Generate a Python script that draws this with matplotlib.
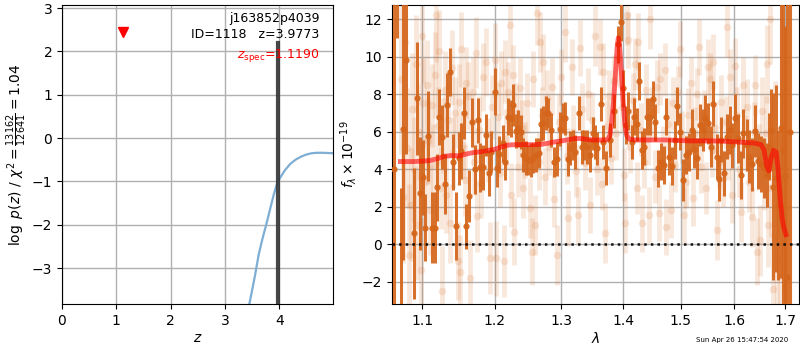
import matplotlib
matplotlib.use("Agg")
import matplotlib.pyplot as plt
from matplotlib.ticker import NullLocator, FixedLocator, FixedFormatter

# ---------------- left panel: redshift PDF ----------------
z_grid = [3.40, 3.45, 3.55, 3.62, 3.69, 3.76, 3.83, 3.90, 3.96, 4.00, 4.05, 4.10,
          4.20, 4.30, 4.40, 4.50, 4.60, 4.70, 4.80, 4.99]
logpz = [-4.20, -3.83, -3.20, -2.70, -2.33, -2.00, -1.65, -1.30, -1.05, -0.95, -0.85, -0.75,
         -0.60, -0.50, -0.43, -0.38, -0.35, -0.34, -0.34, -0.35]
z_best = 3.9773
z_spec = 1.1190
z_spec_mark = 2.45
zbest_line_top = 2.2
left_xticks = [0, 1, 2, 3, 4]
left_yticks = [-3, -2, -1, 0, 1, 2, 3]

# ---------------- right panel: spectrum ----------------
bold_wave = [1.0637, 1.0675, 1.0720, 1.0756, 1.0791, 1.0895, 1.0938, 1.0974, 1.1017, 1.1044,
             1.1083, 1.1129, 1.1169, 1.1196, 1.1231, 1.1271, 1.1312, 1.1339, 1.1380, 1.1421,
             1.1462, 1.1495, 1.1527, 1.1568, 1.1600, 1.1642, 1.1684, 1.1726, 1.1760, 1.1792,
             1.1830, 1.1882, 1.1916, 1.1953, 1.2002, 1.2040, 1.2069, 1.2118, 1.2156, 1.2200,
             1.2235, 1.2273, 1.2313, 1.2347, 1.2382, 1.2421, 1.2457, 1.2491, 1.2532, 1.2571,
             1.2612, 1.2653, 1.2688, 1.2722, 1.2764, 1.2799, 1.2841, 1.2887, 1.2929, 1.2980,
             1.3022, 1.3063, 1.3105, 1.3141, 1.3179, 1.3220, 1.3274, 1.3322, 1.3364, 1.3402,
             1.3455, 1.3499, 1.3536, 1.3574, 1.3639, 1.3672, 1.3716, 1.3782, 1.3853, 1.3910,
             1.3960, 1.4004, 1.4044, 1.4088, 1.4145, 1.4190, 1.4231, 1.4275, 1.4326, 1.4361,
             1.4413, 1.4459, 1.4512, 1.4552, 1.4604, 1.4651, 1.4704, 1.4745, 1.4798, 1.4846,
             1.4905, 1.4941, 1.4989, 1.5049, 1.5098, 1.5146, 1.5201, 1.5243, 1.5304, 1.5353,
             1.5403, 1.5451, 1.5507, 1.5551, 1.5600, 1.5664, 1.5701, 1.5750, 1.5807, 1.5864,
             1.5915, 1.5954, 1.6017, 1.6063, 1.6121, 1.6171, 1.6238, 1.6288, 1.6335, 1.6400,
             1.6465, 1.6518, 1.6572, 1.6632, 1.6684, 1.6718, 1.6764, 1.6818, 1.6865, 1.6913,
             1.6960, 1.7001, 1.7047, 1.7103]
bold_flux = [4.00, 16.0, -6.0, 6.13, 9.81, 0.57, 7.77, 2.70, 3.57, 0.87,
             5.76, 0.87, 0.87, 3.02, 6.77, 5.71, 3.18, 7.41, 9.17, 4.39,
             0.96, 4.57, 4.96, 6.99, 0.96, 2.56, 6.49, 3.98, 6.60, 4.09,
             4.09, 5.81, 3.77, 4.92, 8.12, 4.04, 4.78, 5.37, 4.39, 6.79,
             6.70, 7.41, 6.03, 6.17, 5.99, 4.75, 4.57, 4.48, 4.48, 4.57,
             4.75, 4.84, 6.38, 6.44, 6.97, 6.97, 6.08, 4.39, 4.53, 6.13,
             6.74, 6.70, 4.52, 5.14, 5.28, 4.92, 6.97, 5.19, 5.28, 5.19,
             4.75, 5.90, 5.46, 5.10, 7.45, 5.46, 4.04, 5.55, 7.09, 10.65,
             11.82, 8.30, 6.35, 7.09, 5.46, 6.79, 6.38, 8.69, 5.01, 5.19,
             6.79, 6.79, 7.72, 6.49, 4.04, 4.39, 4.21, 6.79, 4.66, 4.16,
             5.55, 7.36, 5.99, 3.41, 4.75, 4.92, 6.08, 5.07, 4.57, 6.35,
             6.08, 6.74, 6.44, 5.19, 7.47, 4.66, 3.47, 5.55, 3.77, 5.72,
             6.08, 5.28, 6.70, 5.63, 3.68, 5.90, 5.28, 4.66, 4.25, 6.03,
             4.43, 4.25, 4.04, 3.68, 5.19, 6.08, 3.06, 3.50, 2.08, 6.17,
             5.00, 3.64, -1.74, 6.00]
bold_err = [10.0, 5.0, 9.0, 7.0, 5.0, 3.5, 3.0, 3.0, 2.0, 1.8,
            2.4, 1.9, 1.9, 1.8, 1.5, 1.7, 1.6, 1.7, 1.3, 1.5,
            1.8, 1.4, 1.5, 1.4, 1.2, 1.4, 1.3, 1.3, 1.2, 1.3,
            1.2, 1.1, 1.2, 1.1, 1.25, 1.0, 1.0, 1.0, 1.0, 1.0,
            1.0, 1.1, 0.9, 1.0, 0.9, 0.9, 0.9, 0.8, 0.9, 0.8,
            0.9, 0.8, 0.9, 0.9, 0.9, 0.8, 0.9, 0.8, 0.9, 0.9,
            0.8, 0.9, 0.9, 0.9, 0.8, 0.9, 0.9, 0.9, 0.8, 0.9,
            0.9, 0.9, 0.9, 0.9, 0.9, 0.9, 0.9, 0.9, 0.9, 1.0,
            1.0, 1.0, 1.0, 1.0, 0.9, 1.0, 0.9, 1.0, 1.0, 1.0,
            1.0, 1.0, 1.0, 1.0, 1.0, 1.0, 1.0, 1.0, 1.0, 1.0,
            1.0, 1.0, 1.0, 1.1, 1.0, 1.0, 1.1, 1.0, 1.1, 1.1,
            1.1, 1.2, 1.1, 1.1, 1.2, 1.2, 1.2, 1.2, 1.2, 1.2,
            1.3, 1.2, 1.3, 1.3, 1.3, 1.3, 1.4, 1.4, 1.4, 1.4,
            1.5, 1.5, 1.6, 1.7, 1.8, 2.2, 5.0, 5.0, 4.0, 8.0,
            12.0, 8.0, 15.0, 14.0]

faint_wave = [1.0725, 1.0752, 1.0778, 1.0801, 1.0829, 1.0850, 1.0872, 1.0893, 1.0915, 1.0938,
              1.0962, 1.0980, 1.0996, 1.1012, 1.1035, 1.1060, 1.1081, 1.1105, 1.1130, 1.1152,
              1.1175, 1.1190, 1.1212, 1.1230, 1.1248, 1.1262, 1.1285, 1.1305, 1.1325, 1.1350,
              1.1378, 1.1398, 1.1420, 1.1448, 1.1480, 1.1495, 1.1512, 1.1530, 1.1555, 1.1575,
              1.1600, 1.1630, 1.1650, 1.1690, 1.1712, 1.1740, 1.1752, 1.1780, 1.1810, 1.1840,
              1.1880, 1.1905, 1.1940, 1.1970,
              1.2000, 1.2025, 1.2045, 1.2075, 1.2098, 1.2130, 1.2150, 1.2172, 1.2195, 1.2220,
              1.2245, 1.2262, 1.2290, 1.2318, 1.2340, 1.2365, 1.2395, 1.2420, 1.2440, 1.2470,
              1.2520, 1.2545, 1.2565, 1.2600, 1.2630, 1.2650, 1.2670, 1.2700, 1.2720, 1.2750,
              1.2780, 1.2810, 1.2850, 1.2880, 1.2930, 1.2960, 1.3000, 1.3060, 1.3085, 1.3110,
              1.3160, 1.3190, 1.3230, 1.3260, 1.3300, 1.3330, 1.3380, 1.3420, 1.3450,
              1.3490, 1.3540, 1.3570, 1.3620, 1.3650, 1.3672, 1.3700, 1.3725, 1.3760, 1.3800,
              1.3840, 1.3880, 1.3930, 1.3975, 1.4010, 1.4040, 1.4060, 1.4090, 1.4120, 1.4160,
              1.4200, 1.4240, 1.4260, 1.4300, 1.4320, 1.4350, 1.4390, 1.4420, 1.4450, 1.4460,
              1.4500, 1.4540, 1.4580, 1.4620, 1.4635, 1.4680, 1.4720, 1.4745, 1.4780, 1.4830,
              1.4860, 1.4900, 1.4950, 1.4990, 1.5030, 1.5060, 1.5100, 1.5140, 1.5180,
              1.5220, 1.5260, 1.5300, 1.5340, 1.5380, 1.5420, 1.5460, 1.5500, 1.5540, 1.5580,
              1.5600, 1.5640, 1.5660, 1.5700, 1.5740, 1.5790, 1.5830, 1.5850, 1.5880, 1.5920,
              1.5960, 1.6010, 1.6050, 1.6090, 1.6120, 1.6170, 1.6210, 1.6250, 1.6290, 1.6340,
              1.6370, 1.6400, 1.6430, 1.6470, 1.6500, 1.6540, 1.6580, 1.6620, 1.6640, 1.6650,
              1.6690, 1.6720, 1.6760, 1.6800, 1.6840, 1.6890, 1.6930, 1.6980]
faint_flux = [8.8, 2.5, 10.8, 5.1, -0.6, 2.1, 7.2, 4.0, 9.6, 1.0,
              6.0, -1.4, 11.1, 7.5, 3.3, 8.5, 5.5, 1.8, 7.4, 4.2,
              9.0, 12.2, 6.3, 10.3, 3.0, -2.5, 5.8, 8.2, 2.6, 6.6,
              1.1, 9.4, 4.9, 7.0, -0.9, 7.6, -1.5, 10.4, 5.3, 3.4,
              8.6, 7.9, -1.8, 8.1, 4.4, 10.2, 1.5, 6.1, 3.2, 8.9,
              9.7, 5.0, -0.75, 7.3,
              9.8, -0.75, 6.8, 3.8, 8.6, -0.9, 9.2, 5.6, 8.1, 11.7,
              2.6, 9.0, 0.66, 7.0, 4.1, 8.3, 6.2, 2.97, 5.0, 7.5,
              1.9, -0.4, 8.8, 1.0, 12.3, 4.4, 10.8, 6.9, 9.7, 3.6,
              7.8, 5.2, 8.4, 2.4, -0.6, 6.5, 8.9, 11.3, 4.7, 1.37,
              9.46, 6.0, 3.9, 1.55, 10.45, 7.2, 4.3, 8.0, 2.08,
              6.6, 11.1, 4.0, 10.5, 3.2, 9.2, 0.57, 6.3, 7.9, 4.6,
              8.7, 5.9, 9.9, 7.3, 3.7, 1.1, 12.2, 10.9, 5.2, 7.7,
              9.6, 3.0, 10.8, 6.1, 1.1, 4.4, 8.2, 5.6, 1.55, 12.0,
              7.0, 3.6, 8.4, 1.64, 8.8, 4.9, 9.3, 0.92, 6.4, 1.81,
              7.5, 4.2, 8.1, 10.4, 5.7, 1.55, 3.3, 6.9, 8.6,
              2.45, 5.9, 8.0, 10.5, 4.1, 6.8, 3.0, 9.45, 8.8, 5.0,
              9.7, 6.2, 0.75, 4.4, 7.6, 3.5, 6.5, 11.6, 4.8, 8.9,
              2.6, 9.5, 6.9, 4.0, 1.7, 8.5, 5.4, 7.3, 3.3, 1.45,
              6.0, 8.5, -0.4, 4.7, 0.2, 7.1, 3.7, 5.9, 9.6, 1.0,
              12.0, 3.0, -2.4, 5.5, -0.8, -1.7, 8.0, 2.0]
faint_err = [4.0, 3.5, 3.0, 3.2, 3.8, 3.0, 3.0, 2.8, 2.6, 2.9,
             2.6, 2.8, 2.5, 2.4, 2.5, 2.4, 2.3, 2.4, 2.2, 2.2,
             2.3, 2.5, 2.1, 2.2, 2.2, 2.4, 2.0, 2.1, 2.0, 2.0,
             2.1, 2.0, 1.9, 1.9, 2.1, 2.0, 2.0, 2.0, 1.8, 1.9,
             1.9, 1.8, 2.0, 1.9, 1.8, 1.9, 1.9, 1.8, 1.8, 1.8,
             1.8, 1.7, 1.9, 1.7,
             2.0, 2.0, 1.8, 1.8, 1.7, 1.9, 1.7, 1.6, 1.6, 1.8,
             1.7, 1.6, 1.8, 1.6, 1.6, 1.6, 1.5, 1.6, 1.5, 1.6,
             1.6, 1.8, 1.5, 1.6, 1.7, 1.5, 1.6, 1.5, 1.5, 1.5,
             1.5, 1.5, 1.5, 1.5, 1.6, 1.5, 1.5, 1.6, 1.5, 1.5,
             1.5, 1.4, 1.4, 1.5, 1.5, 1.4, 1.4, 1.4, 1.5,
             1.5, 1.6, 1.4, 1.5, 1.4, 1.5, 1.6, 1.4, 1.4, 1.4,
             1.4, 1.4, 1.5, 1.4, 1.4, 1.6, 1.6, 1.5, 1.4, 1.4,
             1.4, 1.4, 1.5, 1.4, 1.5, 1.4, 1.4, 1.4, 1.5, 1.6,
             1.4, 1.4, 1.4, 1.5, 1.4, 1.4, 1.4, 1.5, 1.4, 1.5,
             1.4, 1.4, 1.4, 1.5, 1.4, 1.5, 1.4, 1.4, 1.4,
             1.5, 1.4, 1.4, 1.5, 1.4, 1.4, 1.4, 1.5, 1.4, 1.4,
             1.5, 1.4, 1.6, 1.4, 1.4, 1.5, 1.4, 1.6, 1.4, 1.5,
             1.5, 1.5, 1.5, 1.5, 1.6, 1.5, 1.5, 1.5, 1.6, 1.6,
             1.6, 1.6, 1.8, 1.7, 1.9, 1.8, 1.9, 2.0, 2.1, 2.2,
             2.4, 2.6, 3.0, 3.2, 3.5, 3.8, 4.0, 4.5]

model_wave = [1.0718, 1.0800, 1.0900, 1.1000, 1.1100, 1.1200, 1.1300, 1.1400, 1.1500, 1.1600,
              1.1700, 1.1800, 1.1900, 1.2000, 1.2100, 1.2200, 1.2300, 1.2400, 1.2500, 1.2600,
              1.2700, 1.2800, 1.2900, 1.3000, 1.3100, 1.3200, 1.3300, 1.3400, 1.3500, 1.3600,
              1.3700, 1.3750, 1.3780, 1.3810, 1.3840, 1.3870, 1.3900, 1.3920, 1.3940, 1.3970,
              1.4000, 1.4030, 1.4060, 1.4100, 1.4200, 1.4400, 1.4600, 1.4800, 1.5000, 1.5200,
              1.5400, 1.5600, 1.5800, 1.6000, 1.6200, 1.6400, 1.6520, 1.6580, 1.6630, 1.6670,
              1.6720, 1.6770, 1.6820, 1.6860, 1.6900, 1.6940, 1.6980, 1.7020]
model_flux = [4.40, 4.40, 4.40, 4.42, 4.45, 4.55, 4.68, 4.72, 4.70, 4.80,
              4.88, 4.92, 4.98, 5.05, 5.18, 5.28, 5.30, 5.30, 5.30, 5.30,
              5.32, 5.38, 5.45, 5.50, 5.56, 5.62, 5.63, 5.58, 5.55, 5.55,
              5.55, 5.60, 5.80, 6.50, 7.60, 9.00, 10.50, 11.00, 10.60, 9.20,
              7.60, 6.40, 5.80, 5.60, 5.55, 5.55, 5.55, 5.55, 5.52, 5.50,
              5.50, 5.50, 5.48, 5.45, 5.42, 5.38, 5.30, 5.00, 4.20, 3.90,
              4.60, 5.00, 4.90, 4.00, 2.50, 1.40, 0.85, 0.50]
right_xticks = [1.1, 1.2, 1.3, 1.4, 1.5, 1.6, 1.7]
right_xticklabels = ["1.1", "1.2", "1.3", "1.4", "1.5", "1.6", "1.7"]
right_yticks = [-2, 0, 2, 4, 6, 8, 10, 12]
timestamp = "Sun Apr 26 15:47:54 2020"

orange = "#d4651a"
grid_kw = dict(color="#b0b0b0", linewidth=1.0)

fig = plt.figure(figsize=(8, 3.5), dpi=100)
ax1 = fig.add_axes([0.0775, 0.1314, 0.33875, 0.8543])
ax2 = fig.add_axes([0.49, 0.1314, 0.50875, 0.8543])

# ---- left ----
ax1.set_axisbelow(True)
ax1.grid(True, **grid_kw)
ax1.plot(z_grid, logpz, color="#7eaed3", lw=1.6, zorder=2)
ax1.plot([z_best, z_best], [-3.83, zbest_line_top], color="#333333", lw=3, alpha=0.9, zorder=3)
ax1.plot([z_spec], [z_spec_mark], marker="v", color="red", ms=7, linestyle="none", zorder=4)
ax1.set_xlim(0, 4.99)
ax1.set_ylim(-3.83, 3.07)
ax1.set_xticks(left_xticks)
ax1.set_yticks(left_yticks)
ax1.set_xlabel(r"$z$", fontsize=10, labelpad=2)
ax1.set_ylabel(r"$\log\ p(z)$ / $\chi^2=\frac{13162}{12641}=1.04$", fontsize=10, labelpad=2)
ax1.text(0.95, 0.975, "j163852p4039\nID=1118   z=3.9773", transform=ax1.transAxes,
         ha="right", va="top", fontsize=9, linespacing=1.25)
ax1.text(0.95, 0.83, r"$z_{\rm spec}$=1.1190", transform=ax1.transAxes,
         ha="right", va="center", fontsize=9, color="red")
ax1.tick_params(labelsize=10)

# ---- right ----
ax2.set_axisbelow(True)
ax2.grid(True, **grid_kw)
ax2.errorbar(faint_wave, faint_flux, yerr=faint_err, fmt="o", color=orange, ms=5.5,
             elinewidth=3.5, capsize=0, alpha=0.15, mew=0, zorder=2)
ax2.errorbar(bold_wave, bold_flux, yerr=bold_err, fmt="o", color=orange, ms=4.5,
             elinewidth=2.2, capsize=0, alpha=0.92, mew=0, zorder=3)
ax2.plot(model_wave, model_flux, color="red", lw=3.5, alpha=0.6, zorder=4)
ax2.axhline(0, color="k", linestyle=":", lw=1.8, alpha=0.9, zorder=5)
ax2.set_xscale("log")
ax2.set_xlim(1.0611, 1.7288)
ax2.set_ylim(-3.2, 12.75)
ax2.xaxis.set_major_locator(FixedLocator(right_xticks))
ax2.xaxis.set_major_formatter(FixedFormatter(right_xticklabels))
ax2.xaxis.set_minor_locator(NullLocator())
ax2.set_yticks(right_yticks)
ax2.set_xlabel(r"$\lambda$", fontsize=10, labelpad=2)
ax2.set_ylabel(r"$f_\lambda \times 10^{-19}$", fontsize=10, labelpad=2)
ax2.tick_params(labelsize=10)

fig.text(0.928, 0.029, timestamp, ha="center", va="center", fontsize=5)

fig.savefig("out.png", dpi=100)
